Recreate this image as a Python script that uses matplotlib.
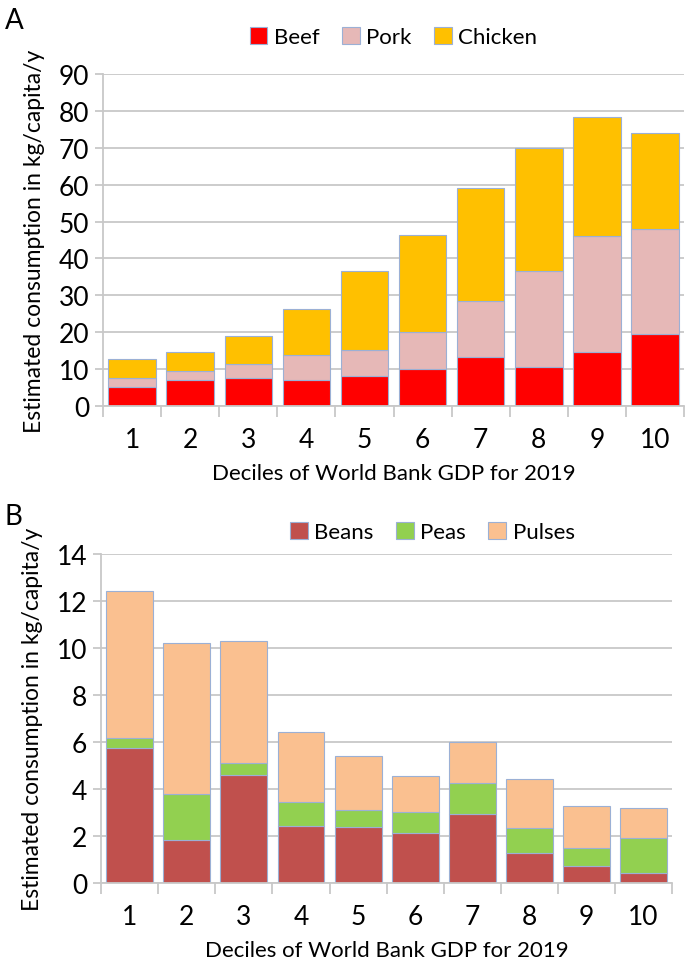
import matplotlib.pyplot as plt
import numpy as np

# deciles of World Bank GDP 2019
deciles = np.arange(1, 11)
dec_labels = [str(d) for d in deciles]

# panel A, cumulative tops
beef = [5.0, 7.1, 7.7, 6.9, 8.2, 10.0, 13.2, 10.6, 14.5, 19.5]
beef_pork = [7.6, 9.5, 11.4, 13.8, 15.2, 20.0, 28.5, 36.7, 46.2, 48.1]
meat_total = [12.7, 14.5, 19.0, 26.2, 36.5, 46.3, 59.0, 69.9, 78.4, 74.1]

# panel B, cumulative tops
beans = [5.73, 1.82, 4.62, 2.41, 2.37, 2.13, 2.92, 1.30, 0.74, 0.45]
beans_peas = [6.16, 3.77, 5.11, 3.45, 3.11, 3.04, 4.24, 2.35, 1.50, 1.91]
legume_total = [12.41, 10.21, 10.31, 6.41, 5.40, 4.54, 5.99, 4.45, 3.29, 3.19]

pork = np.array(beef_pork) - np.array(beef)
chicken = np.array(meat_total) - np.array(beef_pork)
peas = np.array(beans_peas) - np.array(beans)
pulses = np.array(legume_total) - np.array(beans_peas)

plt.rcParams['font.family'] = ['Lato', 'DejaVu Sans']
edge = '#9bb0d5'
grid_c = '#c8c8c8'


def style_axes(ax, ymax, ystep):
        ax.set_xlim(0.5, 10.5)
        ax.set_ylim(0, ymax)
        ax.set_yticks(np.arange(0, ymax + 0.1, ystep))
        ax.yaxis.grid(True, color=grid_c, lw=1.3)
        ax.set_axisbelow(True)
        for s in ['top', 'right']:
                ax.spines[s].set_visible(False)
        for s in ['left', 'bottom']:
                ax.spines[s].set_color(grid_c)
                ax.spines[s].set_linewidth(1.3)
        # category labels in the middle, ticks on the boundaries
        ax.set_xticks(deciles)
        ax.set_xticklabels(dec_labels, fontsize=19)
        ax.tick_params(axis='x', which='major', length=0, pad=15)
        ax.set_xticks(np.arange(0.5, 10.6, 1), minor=True)
        ax.tick_params(axis='x', which='minor', length=8, color=grid_c, width=1.3)
        ax.tick_params(axis='y', length=6, color=grid_c, width=1.3, labelsize=19, pad=4)
        ax.set_xlabel('Deciles of World Bank GDP for 2019', fontsize=16, labelpad=8)
        ax.set_ylabel('Estimated consumption in kg/capita/y', fontsize=16.5, labelpad=10)


fig = plt.figure(figsize=(6.88, 9.62), dpi=100)

w = 0.82
ax1 = fig.add_axes([0.150, 0.577, 0.844, 0.345])
ax1.bar(deciles, beef, w, color='#ff0000', edgecolor=edge, lw=0.8, label='Beef')
ax1.bar(deciles, pork, w, bottom=beef, color='#e6b8b7', edgecolor=edge, lw=0.8, label='Pork')
ax1.bar(deciles, chicken, w, bottom=beef_pork, color='#ffc000', edgecolor=edge, lw=0.8, label='Chicken')
style_axes(ax1, 90, 10)
ax1.legend(loc='lower center', bbox_to_anchor=(0.5, 1.02), ncol=3, frameon=False,
           fontsize=16, handlelength=0.8, handleheight=0.8, handletextpad=0.3, columnspacing=1.0)
fig.text(0.007, 0.978, 'A', fontsize=20, va='center')

ax2 = fig.add_axes([0.147, 0.081, 0.830, 0.342])
ax2.bar(deciles, beans, w, color='#c0504d', edgecolor=edge, lw=0.8, label='Beans')
ax2.bar(deciles, peas, w, bottom=beans, color='#92d050', edgecolor=edge, lw=0.8, label='Peas')
ax2.bar(deciles, pulses, w, bottom=beans_peas, color='#fac090', edgecolor=edge, lw=0.8, label='Pulses')
style_axes(ax2, 14, 2)
ax2.legend(loc='lower center', bbox_to_anchor=(0.58, 0.975), ncol=3, frameon=False,
           fontsize=16, handlelength=0.8, handleheight=0.8, handletextpad=0.3, columnspacing=1.0)
fig.text(0.007, 0.463, 'B', fontsize=20, va='center')

plt.savefig('out.png', dpi=100)
